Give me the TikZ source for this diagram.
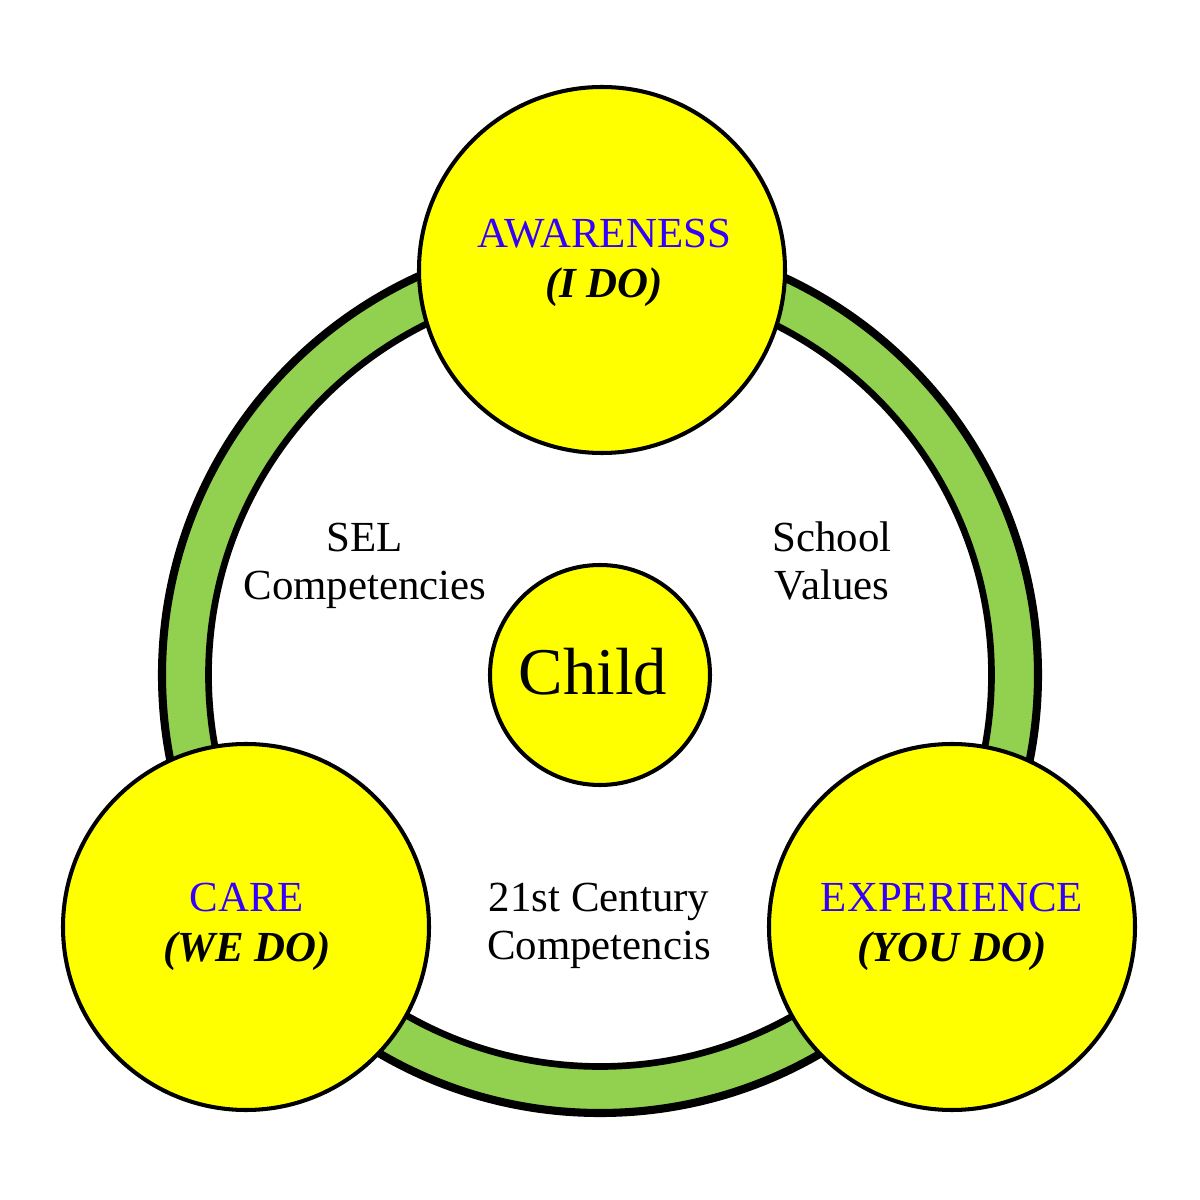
\documentclass[tikz,border=0pt]{standalone}
\usepackage{fontspec}
\setmainfont{Liberation Serif}
\usetikzlibrary{positioning}
\definecolor{ringgreen}{RGB}{146,208,80}
\definecolor{phaseblue}{RGB}{51,0,255}
\definecolor{phaseyellow}{RGB}{255,255,0}

\begin{document}
\begin{tikzpicture}[
    phase/.style={circle, draw, line width=1.15pt, fill=phaseyellow, inner sep=0pt, minimum size=3.66cm},
    phasetext/.style={align=center, anchor=base, font=\fontsize{12.2}{14.5}\selectfont},
    areatext/.style={align=center, anchor=base, font=\fontsize{12.2}{13.7}\selectfont}
  ]
      \useasboundingbox (0,0) rectangle (12,12);
      \coordinate (hub) at (6,5.25);
      \fill[ringgreen, even odd rule] (hub) circle (4.37cm) (hub) circle (3.93cm);
      \draw[line width=2.3pt] (hub) circle (4.38cm);
      \draw[line width=1.9pt] (hub) circle (3.915cm);
      \node[phase] (awareness) at (6.02, 9.30) {};
      \node[phase] (care) at (2.46, 2.73) {};
      \node[phase] (experience) at (9.52, 2.73) {};
      \node[phase, minimum size=2.2cm] (child) at (hub) {};
      % base anchor sits on the second line
      \node[phasetext] (awarenessText) at (6.04, 9.02) {\textcolor{phaseblue}{AWARENESS}\\\textbf{\textit{(I DO)}}};
      \node[phasetext] (careText) at (2.47, 2.38) {\textcolor{phaseblue}{CARE}\\\textbf{\textit{(WE DO)}}};
      \node[phasetext] (experienceText) at (9.52, 2.38) {\textcolor{phaseblue}{EXPERIENCE}\\\textbf{\textit{(YOU DO)}}};
      \node[areatext] (sel) at (3.65, 6.00) {SEL\\Competencies};
      \node[areatext] (values) at (8.32, 6.00) {School\\Values};
      \node[areatext] (century) at (5.99, 2.40) {21st Century\\Competencis};
      \node[anchor=base, font=\fontsize{19}{22}\selectfont] (childText) at (5.93, 5.05) {Child};
    \end{tikzpicture}
\end{document}
